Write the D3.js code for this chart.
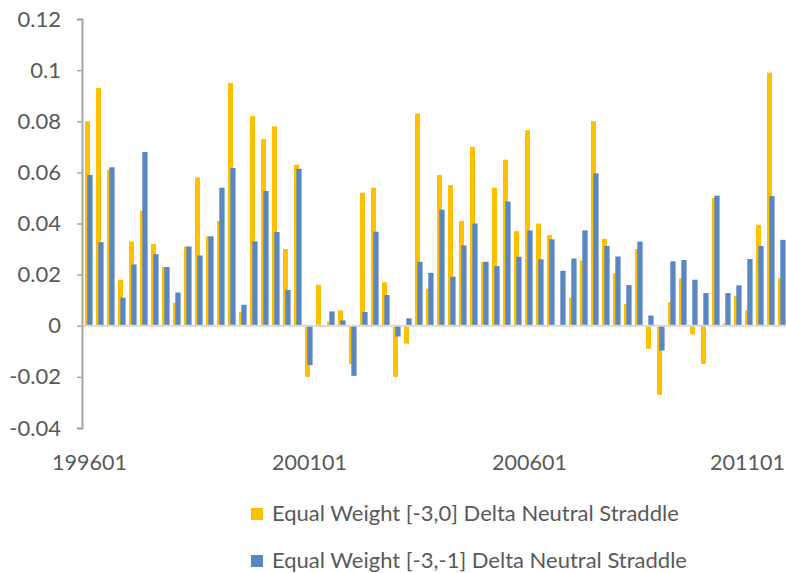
<!DOCTYPE html>
<html>
<head>
<meta charset="utf-8">
<script src="https://cdn.jsdelivr.net/npm/d3@7"></script>
<style>
body { margin: 0; background: #fff; }
text { font-family: Lato, "Open Sans", sans-serif; fill: #595959; }
</style>
</head>
<body>
<div id="chart"></div>
<script>
// quarterly periods, yyyymm
var periods = [
	"199601","199604","199607","199610","199701","199704","199707","199710",
	"199801","199804","199807","199810","199901","199904","199907","199910",
	"200001","200004","200007","200010","200101","200104","200107","200110",
	"200201","200204","200207","200210","200301","200304","200307","200310",
	"200401","200404","200407","200410","200501","200504","200507","200510",
	"200601","200604","200607","200610","200701","200704","200707","200710",
	"200801","200804","200807","200810","200901","200904","200907","200910",
	"201001","201004","201007","201010","201101","201104","201107","201110"
];

var straddle30 = [
	0.080, 0.093, 0.061, 0.018, 0.033, 0.045, 0.032, 0.023,
	0.009, 0.031, 0.058, 0.035, 0.041, 0.095, 0.0055, 0.082,
	0.073, 0.078, 0.030, 0.063, -0.020, 0.016, 0.0016, 0.006,
	-0.015, 0.052, 0.054, 0.017, -0.020, -0.007, 0.083, 0.0145,
	0.059, 0.055, 0.041, 0.070, 0.025, 0.054, 0.065, 0.037,
	0.0765, 0.040, 0.0355, 0.000, 0.011, 0.0255, 0.080, 0.034,
	0.0205, 0.0085, 0.030, -0.009, -0.027, 0.0093, 0.0185, -0.0034,
	-0.015, 0.050, 0.001, 0.0117, 0.006, 0.0395, 0.099, 0.0186
];

var straddle31 = [
	0.059, 0.0327, 0.062, 0.011, 0.024, 0.068, 0.028, 0.023,
	0.013, 0.031, 0.0275, 0.035, 0.054, 0.0617, 0.0082, 0.033,
	0.0527, 0.0367, 0.014, 0.0614, -0.0154, -0.0005, 0.0056, 0.0021,
	-0.0196, 0.0054, 0.0368, 0.012, -0.0042, 0.0029, 0.025, 0.0207,
	0.0454, 0.0192, 0.0314, 0.040, 0.025, 0.0233, 0.0486, 0.027,
	0.0373, 0.026, 0.0338, 0.0215, 0.0263, 0.0373, 0.0596, 0.0312,
	0.0271, 0.0159, 0.0329, 0.004, -0.0097, 0.0252, 0.0257, 0.018,
	0.0128, 0.0509, 0.0128, 0.0158, 0.0261, 0.0312, 0.0507, 0.0336
];

var yTicks = [-0.04, -0.02, 0, 0.02, 0.04, 0.06, 0.08, 0.1, 0.12];
var xTicks = ["199601", "200101", "200601", "201101"];
var seriesNames = ["Equal Weight [-3,0] Delta Neutral Straddle",
	"Equal Weight [-3,-1] Delta Neutral Straddle"];
var colors = ["#FFC000", "#5A86C2"];

var W = 786, H = 573;
var plot = { left: 84, top: 19, bottom: 428, step: 11 };

var svg = d3.select("#chart")
	.append("svg")
	.attr("width", W)
	.attr("height", H);

var x = d3.scaleBand()
	.domain(periods)
	.range([plot.left, plot.left + periods.length * plot.step])
	.padding(0);

var y = d3.scaleLinear()
	.domain([-0.04, 0.12])
	.range([plot.bottom, plot.top]);

var data = periods.map(function(p, i){
	return { period: p, a: straddle30[i], b: straddle31[i] };
});

// yellow bars, then blue ones on top (they overlap a bit)
svg.append("g").selectAll("rect")
	.data(data)
	.enter()
	.append("rect")
		.attr("x", function(d){ return x(d.period) + 1; })
		.attr("width", 5)
		.attr("y", function(d){ return y(Math.max(0, d.a)); })
		.attr("height", function(d){ return Math.abs(y(d.a) - y(0)); })
		.attr("fill", colors[0]);

svg.append("g").selectAll("rect")
	.data(data)
	.enter()
	.append("rect")
		.attr("x", function(d){ return x(d.period) + 3.3; })
		.attr("width", 5.3)
		.attr("y", function(d){ return y(Math.max(0, d.b)); })
		.attr("height", function(d){ return Math.abs(y(d.b) - y(0)); })
		.attr("fill", colors[1]);

// zero line
svg.append("line")
	.attr("x1", 82)
	.attr("x2", W)
	.attr("y1", y(0))
	.attr("y2", y(0))
	.attr("stroke", "#D9D9D9")
	.attr("stroke-width", 2);

var yAxisCall = d3.axisLeft(y)
	.tickValues(yTicks)
	.tickSize(5)
	.tickPadding(16)
	.tickFormat(function(d){ return String(+d.toFixed(2)); });

var yAxis = svg.append("g")
	.attr("transform", "translate(82, 0)")
	.call(yAxisCall);
yAxis.select(".domain").attr("stroke", "#A6A6A6").attr("stroke-width", 2);
yAxis.selectAll(".tick line").attr("stroke", "#A6A6A6").attr("stroke-width", 1.5);
yAxis.selectAll("text")
	.attr("font-size", "22px")
	.attr("font-family", null)
	.attr("fill", "#595959");

var xAxisCall = d3.axisBottom(x)
	.tickValues(xTicks)
	.tickSize(0)
	.tickPadding(0);

var xAxis = svg.append("g")
	.attr("transform", "translate(0, 455)")
	.call(xAxisCall);
xAxis.select(".domain").remove();
xAxis.selectAll("text")
	.attr("dy", "0.71em")
	.attr("font-size", "21.5px")
	.attr("font-family", null)
	.attr("fill", "#595959");
// last label sits right at the edge, nudge it in a little
xAxis.selectAll(".tick").filter(function(d){ return d === "201101"; })
	.select("text")
	.attr("x", -2);

// legend
var legend = svg.append("g").selectAll("g")
	.data(seriesNames)
	.enter()
	.append("g")
		.attr("transform", function(d, i){ return "translate(251, " + (508 + i * 47) + ")"; });

legend.append("rect")
	.attr("width", 12)
	.attr("height", 12)
	.attr("fill", function(d, i){ return colors[i]; });

legend.append("text")
	.attr("x", 21)
	.attr("y", 13)
	.attr("font-size", "22px")
	.text(function(d){ return d; });
</script>
</body>
</html>
